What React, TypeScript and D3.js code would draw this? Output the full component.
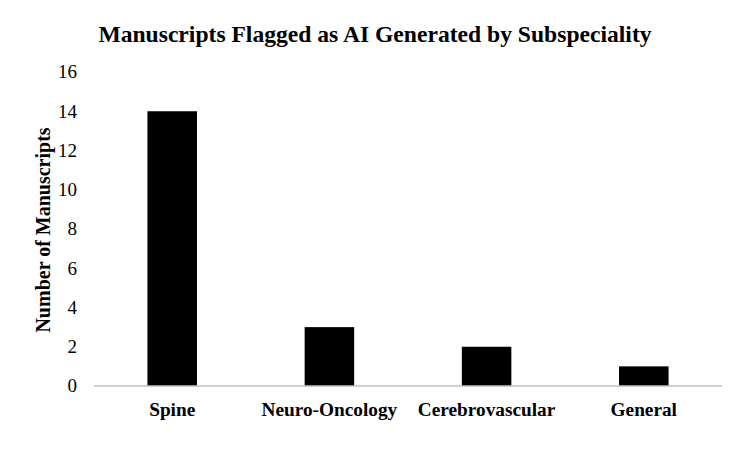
import React from "react";
import * as d3 from "d3";

const categories = ["Spine", "Neuro-Oncology", "Cerebrovascular", "General"];
const values = [14, 3, 2, 1];
const yTicks = [0, 2, 4, 6, 8, 10, 12, 14, 16];
const title = "Manuscripts Flagged as AI Generated by Subspeciality";
const yLabel = "Number of Manuscripts";

const FONT = "'Liberation Serif', 'Times New Roman', Tinos, serif";

export default function App() {
  const W = 750, H = 451;
  const left = 94, right = 722, top = 72, bottom = 386;
  const x = d3.scaleBand<string>().domain(categories).range([left, right]).paddingInner(0.685).paddingOuter(0.34);
  const y = d3.scaleLinear().domain([0, 16]).range([bottom, top]);
  const st = { fontFamily: FONT };
  return (
    <svg width={W} height={H} style={{ position: "absolute", left: 0, top: 0, background: "#fff" }}>
      <rect width={W} height={H} fill="#fff" />
      <text x={375} y={42} textAnchor="middle" fontWeight="bold" fontSize={23.6} style={st}>{title}</text>
      {yTicks.map((t) => (
        <text key={t} x={77} y={y(t)} dy="0.34em" textAnchor="end" fontSize={19} style={st}>{t}</text>
      ))}
      <text transform={`translate(50,230) rotate(-90)`} textAnchor="middle" fontWeight="bold" fontSize={20} style={st}>{yLabel}</text>
      {categories.map((c, i) => (
        <rect key={c} x={x(c)} y={y(values[i])} width={x.bandwidth()} height={y(0) - y(values[i])} fill="#000" />
      ))}
      <line x1={left} x2={right} y1={bottom} y2={bottom} stroke="#bfbfbf" strokeWidth={1.5} />
      {categories.map((c) => (
        <text key={c} x={(x(c) as number) + x.bandwidth() / 2} y={416} textAnchor="middle" fontWeight="bold" fontSize={19.3} style={st}>{c}</text>
      ))}
    </svg>
  );
}
